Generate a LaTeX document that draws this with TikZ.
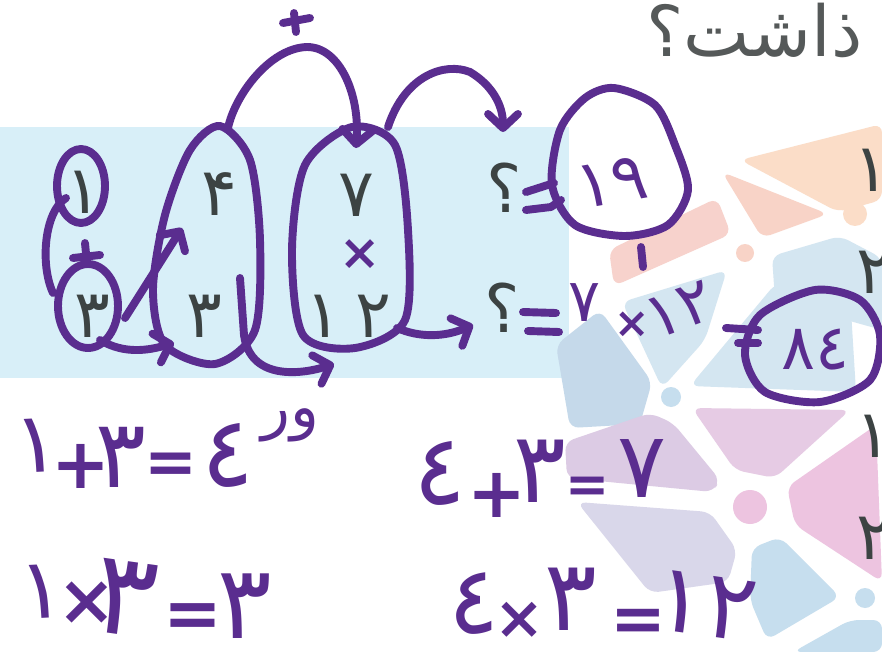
\documentclass[tikz,border=0pt]{standalone}
\usepackage{fontspec}
\usetikzlibrary{arrows.meta}
\TeXXeTstate=1
\newfontfamily\arabicfont[Script=Arabic]{DejaVu Sans}

\definecolor{ink}{HTML}{5A2D8F}
\definecolor{boxblue}{HTML}{D8EFF8}
\definecolor{printgray}{HTML}{3C4343}
\definecolor{titlegray}{HTML}{555959}
\definecolor{peach}{HTML}{FBDDC8}
\definecolor{salmon}{HTML}{F8D3C7}
\definecolor{salmonrect}{HTML}{F7D2CC}
\definecolor{tileblue}{HTML}{C5D9EA}
\definecolor{paleblue}{HTML}{D4E6F1}
\definecolor{lilac}{HTML}{DCCBE4}
\definecolor{lavender}{HTML}{D9D7EA}
\definecolor{pinklilac}{HTML}{E6CBE4}
\definecolor{pink}{HTML}{EDC4E0}
\definecolor{skyblue}{HTML}{C6DEEE}

\tikzset{
  hand/.style={draw=ink,line width=4.5pt,line cap=round,line join=round},
  handarrow/.style={hand,-{Straight Barb[round,length=8pt,width=17pt]}},
  tile/.style={rounded corners=5pt},
  printed/.style={text=printgray,inner sep=0pt,font=\arabicfont\fontsize{38}{40}\selectfont},
  scrawl/.style={text=ink,inner sep=0pt},
}

\begin{document}
\begin{tikzpicture}[x=0.02cm,y=-0.02cm]
\useasboundingbox (0,0) rectangle (882,652);
\clip (0,0) rectangle (882,652);
\fill[white] (0,0) rectangle (882,652);

% Page: blue strip and title
\fill[boxblue] (0,127) rectangle (569,378);
\node[text=titlegray,anchor=base west,inner sep=0pt,font=\arabicfont\fontsize{40}{44}\selectfont] (title) at (646,57) {\beginR ذاشت؟\endR};

% Background tiles
\fill[peach,tile] (740,160) -- (882,124) -- (882,200) -- (838,212) -- cycle;
\fill[salmon,tile] (722,172) -- (828,214) -- (762,238) -- cycle;
\fill[salmonrect,tile] (609,250) -- (717,198) -- (731,234) -- (614,286) -- cycle;
\fill[tileblue,tile] (556,345) -- (600,310) -- (652,382) -- (640,424) -- (570,428) -- cycle;
\fill[paleblue,tile] (622,302) -- (727,270) -- (705,340) -- (662,388) -- cycle;
\fill[paleblue,tile] (690,386) -- (776,283) -- (850,294) -- (856,392) -- cycle;
\fill[paleblue,tile] (772,256) -- (840,236) -- (882,258) -- (882,330) -- (775,300) -- cycle;
\fill[lilac,tile] (565,442) -- (650,413) -- (673,423) -- (720,480) -- (713,492) -- (567,478) -- cycle;
\fill[lavender,tile] (577,502) -- (710,512) -- (737,550) -- (728,582) -- (650,593) -- cycle;
\fill[pinklilac,tile] (692,408) -- (850,410) -- (775,478) -- (735,470) -- cycle;
\fill[pink,tile] (787,487) -- (876,425) -- (882,582) -- (795,525) -- cycle;
\fill[skyblue,tile] (752,548) -- (780,537) -- (840,597) -- (767,640) -- (750,600) -- cycle;
\fill[skyblue,tile] (793,652) -- (850,620) -- (882,620) -- (882,652) -- cycle;
\fill[peach] (855,214) circle (0.24cm);
\fill[salmon] (745,253) circle (0.18cm);
\fill[skyblue] (671,397) circle (0.2cm);
\fill[pink] (750,507) circle (0.34cm);
\fill[skyblue] (865,598) circle (0.2cm);

% Printed numbers
\node[printed] (p1) at (83,192) {۱};
\node[printed] (p4) at (219,194) {۴};
\node[printed] (p7) at (356,195) {۷};
\node[printed] (q3) at (92,316) {۳};
\node[printed] (r3) at (204,316) {۳};
\node[printed] (s1) at (323,316) {۱};
\node[printed] (s2) at (373,316) {۲};
\node[printed] (ask1) at (504,188) {؟};
\node[printed] (ask2) at (502,308) {؟};
\node[printed] (e1) at (871,170) {۱};
\node[printed] (e2) at (874,272) {۲};
\node[printed] (e3) at (873,436) {۱};
\node[printed] (e4) at (874,538) {۲};

% Loops and arrows in pen
\draw[hand] (81,186) ellipse [x radius=0.48cm,y radius=0.74cm];
\draw[hand] (66,198) .. controls (44,212) and (40,265) .. (53,293);
\draw[hand] (85,243) -- (87,264);
\draw[hand] (73,258) -- (100,255);
\draw[hand] (88,306) ellipse [x radius=0.6cm,y radius=0.84cm];
\draw[handarrow] (125,318) -- (182,228);
\draw[handarrow] (100,340) .. controls (125,355) and (150,350) .. (174,343);
\draw[hand] plot[smooth cycle] coordinates {(220,126) (250,160) (260,240) (255,330) (215,364) (165,345) (153,290) (165,215) (190,150)};
\draw[handarrow] (240,278) -- (244,335) .. controls (250,380) and (300,375) .. (334,364);
\draw[hand] plot[smooth cycle] coordinates {(352,127) (395,145) (408,230) (405,320) (355,348) (303,335) (292,250) (305,165)};
\node[scrawl,font=\arabicfont\bfseries\fontsize{28}{30}\selectfont] (mul) at (360,255) {×};
\draw[handarrow] (228,128) .. controls (235,95) and (270,48) .. (307,47) .. controls (340,47) and (360,95) .. (356,148);
\draw[hand] (294,13) -- (296,32);
\draw[hand] (283,23) -- (310,18);
\draw[handarrow] (388,127) .. controls (405,75) and (445,62) .. (470,72) .. controls (492,85) and (503,105) .. (503,132);
\draw[handarrow] (397,328) .. controls (420,338) and (445,337) .. (473,325);

% Answers in pen
\draw[hand] (526,192) -- (554,183);
\draw[hand] (526,210) -- (551,207) -- (561,200);
\draw[hand] plot[smooth cycle] coordinates {(614,88) (655,105) (675,145) (688,190) (668,225) (625,236) (575,225) (552,185) (560,130) (585,98)};
\node[scrawl,rotate=10,font=\arabicfont\fontsize{38}{40}\selectfont] (ans1) at (612,182) {١٩};
\draw[hand] (641,247) -- (643,267);
\draw[hand] (523,312) -- (556,313);
\draw[hand] (528,331) -- (559,332);
\node[scrawl,font=\arabicfont\fontsize{34}{36}\selectfont] (pen7) at (585,303) {٧};
\node[scrawl,font=\arabicfont\bfseries\fontsize{24}{26}\selectfont] (penx) at (632,325) {×};
\node[scrawl,rotate=20,font=\arabicfont\fontsize{36}{40}\selectfont] (pen12) at (680,310) {١٢};
\draw[hand] (726,328) -- (758,330);
\draw[hand] (738,343) -- (758,343);
\draw[hand] plot[smooth cycle] coordinates {(815,290) (860,300) (880,335) (870,380) (820,402) (765,392) (745,355) (760,315)};
\node[scrawl,font=\arabicfont\fontsize{36}{40}\selectfont] (ans2) at (815,350) {٨٤};
\node[scrawl,font=\arabicfont\fontsize{34}{36}\selectfont] (wa) at (290,425) {\beginR ور\endR};

% Worked sums: digits
\foreach \ch/\x/\y/\a/\s [count=\i] in {
  ١/37/446/3/48, ٣/121/457/0/54, ٤/228/455/0/56,
  ١/42/592/3/48, ٣/125/598/-8/66, ٣/245/606/0/58,
  ٤/440/473/0/56, ٣/540/471/0/56, ٧/642/468/0/52,
  ٤/474/604/0/54, ٣/571/599/0/56, ١٢/706/606/-8/54}
  \node[scrawl,rotate=\a,font=\arabicfont\fontsize{\s}{\s}\selectfont] (sum\i) at (\x,\y) {\ch};
% Worked sums: signs
\foreach \ch/\x/\y/\s [count=\i] in {
  +/81/466/40, =/171/468/36,
  ×/87/603/40, =/193/621/40,
  +/497/495/40, =/588/490/30,
  ×/520/620/34, =/638/625/38}
  \node[scrawl,font=\arabicfont\bfseries\fontsize{\s}{\s}\selectfont] (sign\i) at (\x,\y) {\ch};
\end{tikzpicture}
\end{document}
